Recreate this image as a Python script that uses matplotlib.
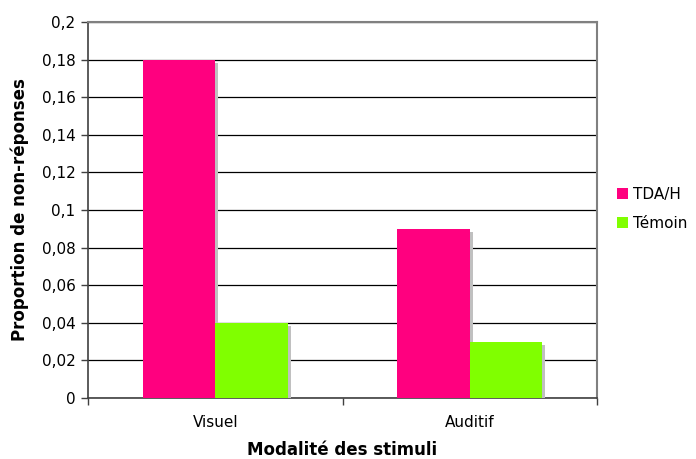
"""Bar chart: proportion de non-réponses par modalité."""

import matplotlib.pyplot as plt
import matplotlib.patheffects as pe
import numpy as np
from matplotlib.ticker import FuncFormatter, FixedLocator

categories = ["Visuel", "Auditif"]
series_names = ["TDA/H", "Témoin"]
tdah = [0.18, 0.09]
temoin = [0.04, 0.03]

COLORS = {
    "TDA/H": "#ff007f",
    "Témoin": "#80ff00",
    "shadow": "#c0c0c0",
    "grid": "#000000",
    "frame": "#808080",
}

fig = plt.figure(figsize=(6.96, 4.59), dpi=100)
ax = fig.add_axes([0.1264, 0.1329, 0.7314, 0.8192])

x = np.arange(len(categories))
width = 0.285
shadow = [pe.SimplePatchShadow(offset=(2.2, -2.2), shadow_rgbFace=COLORS["shadow"], alpha=1), pe.Normal()]

all_bars = []
for i, (name, vals) in enumerate(zip(series_names, [tdah, temoin])):
    offs = (i - 0.5) * width
    bars = ax.bar(x + offs, vals, width, color=COLORS[name], label=name, zorder=3, linewidth=0)
    all_bars.extend(bars)

ax.set_xlim(-0.5, len(categories) - 0.5)
ax.set_ylim(0, 0.2)
ax.set_yticks(np.arange(0, 0.201, 0.02))
ax.yaxis.set_major_formatter(FuncFormatter(lambda v, p: f"{v:.2f}".rstrip("0").rstrip(".").replace(".", ",") if v else "0"))
ax.yaxis.grid(True, color=COLORS["grid"], linewidth=0.9, zorder=1)
ax.set_axisbelow(True)

# category labels centered, ticks at boundaries
ax.set_xticks(x)
ax.set_xticklabels(categories, fontsize=11)
ax.tick_params(axis="x", length=0, pad=12)
ax.xaxis.set_minor_locator(FixedLocator([-0.5, 0.5, 1.5]))
ax.tick_params(axis="x", which="minor", length=5, width=1, color="#404040")
ax.tick_params(axis="y", length=5, width=1, color="#404040", labelsize=11, pad=4)

for side in ["top", "right"]:
    ax.spines[side].set_color(COLORS["frame"])
    ax.spines[side].set_linewidth(1.5)
for side in ["left", "bottom"]:
    ax.spines[side].set_color("#404040")
    ax.spines[side].set_linewidth(1.2)

ax.set_ylabel("Proportion de non-réponses", fontsize=12, fontweight="bold", labelpad=9)
ax.set_xlabel("Modalité des stimuli", fontsize=12, fontweight="bold", labelpad=8)

ax.legend(loc="center left", bbox_to_anchor=(0.877, 0.545), bbox_transform=fig.transFigure,
          frameon=False, fontsize=11, handlelength=0.75, handleheight=0.75,
          handletextpad=0.3, borderaxespad=0, labelspacing=0.9)

# shadows only on the bars, not on the legend keys
for b in all_bars:
    b.set_path_effects(shadow)

fig.savefig("out.png", dpi=100, facecolor="white")
